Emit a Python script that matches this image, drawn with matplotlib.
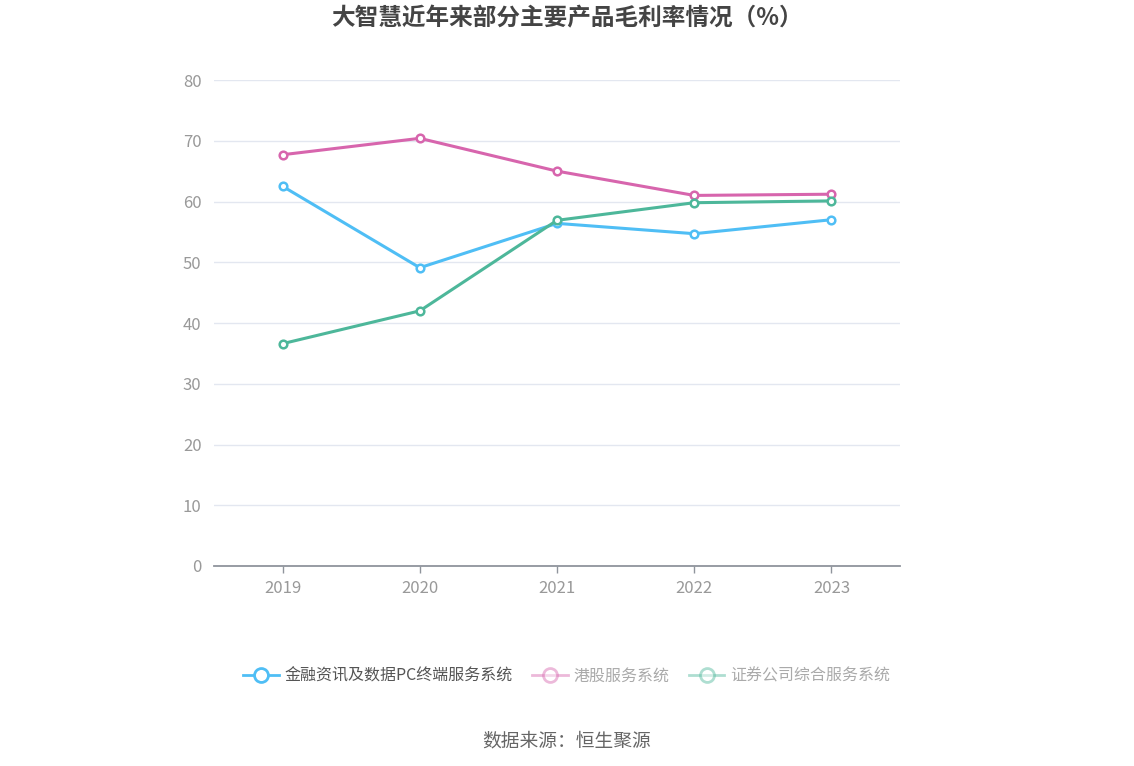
import matplotlib
matplotlib.use("Agg")
import matplotlib.pyplot as plt
from matplotlib.lines import Line2D

plt.rcParams['font.family'] = ['Noto Sans CJK SC', 'DejaVu Sans']

years = ["2019", "2020", "2021", "2022", "2023"]
series_names = ["金融资讯及数据PC终端服务系统", "港股服务系统", "证券公司综合服务系统"]
fin_pc = [62.5, 49.1, 56.4, 54.7, 57.0]
hk = [67.7, 70.4, 65.0, 61.0, 61.2]
broker = [36.6, 42.0, 56.9, 59.8, 60.1]
yticks = [0, 10, 20, 30, 40, 50, 60, 70, 80]

colors = ["#4fbef5", "#d765ad", "#4db79a"]
values = [fin_pc, hk, broker]

fig = plt.figure(figsize=(11.34, 7.66), dpi=100)
ax = fig.add_axes([214/1134, 1-566/766, (900-214)/1134, (566-80)/766])

x = list(range(len(years)))
for vals, c in zip(values, colors):
    ax.plot(x, vals, color=c, lw=2.2, marker='o', ms=5.5, mfc='white',
            mec=c, mew=1.8, zorder=3)

ax.set_xlim(-0.5, len(years) - 0.5)
ax.set_ylim(0, 80)
ax.set_yticks(yticks)
ax.set_yticklabels([str(v) for v in yticks])
ax.set_xticks(x)
ax.set_xticklabels(years)
ax.grid(axis='y', color='#e3e7f0', lw=1)
ax.set_axisbelow(True)
for s in ['top', 'right', 'left']:
    ax.spines[s].set_visible(False)
ax.spines['bottom'].set_color('#8f949c')
ax.spines['bottom'].set_linewidth(1.3)
ax.tick_params(axis='y', length=0, pad=9, labelsize=12, labelcolor='#999999')
ax.tick_params(axis='x', length=5, width=1, color='#8f949c', pad=5,
               labelsize=12, labelcolor='#999999')

fig.text(0.5, 1-18/766, "大智慧近年来部分主要产品毛利率情况（%）", ha='center', va='center',
         fontsize=17, fontweight='bold', color='#444444')

handles = []
for i, (name, c) in enumerate(zip(series_names, colors)):
    a = 1.0 if i == 0 else 0.45
    handles.append(Line2D([0], [0], color=c, lw=2, marker='o', ms=10, mfc='white',
                          mec=c, mew=2, alpha=a, label=name))
leg = fig.legend(handles=handles, loc='center', bbox_to_anchor=(0.5, 1-676/766),
                 ncol=3, frameon=False, fontsize=11.5, handlelength=2.2,
                 handletextpad=0.4, columnspacing=1.2)
for i, t in enumerate(leg.get_texts()):
    t.set_color('#555555' if i == 0 else '#aaaaaa')

fig.text(0.5, 1-741/766, "数据来源：恒生聚源", ha='center', va='center',
         fontsize=13.5, color='#666666')

fig.savefig("out.png", dpi=100)
